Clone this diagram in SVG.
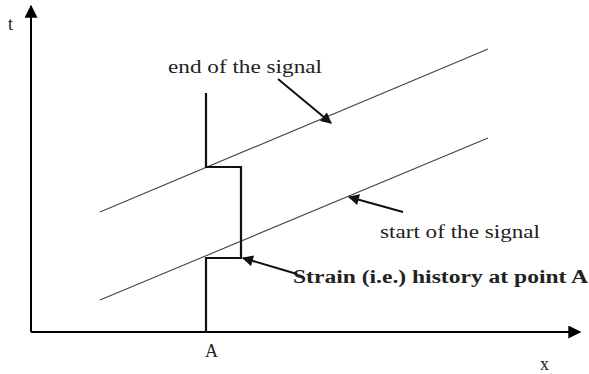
<svg xmlns="http://www.w3.org/2000/svg" width="589" height="374" viewBox="0 0 589 374">
<style>
.ax{stroke:#000;stroke-width:2;fill:none}
.sig{stroke:#444;stroke-width:1.1;fill:none}
.step{stroke:#111;stroke-width:2.2;fill:none}
.ann{stroke:#111;stroke-width:2;fill:none}
.t{font-family:"Liberation Serif","Times New Roman",serif;font-size:18px;fill:#222}
.b{font-weight:bold}
</style>
<defs>
<marker id="axh" viewBox="0 0 10 10" refX="9" refY="5" markerWidth="7" markerHeight="6.5" markerUnits="strokeWidth" orient="auto">
<path d="M0,0 L10,5 L0,10 Z" fill="#000"/>
</marker>
<marker id="ah" viewBox="0 0 10 10" refX="9" refY="5" markerWidth="6.5" markerHeight="5.5" markerUnits="strokeWidth" orient="auto">
<path d="M0,0 L10,5 L0,10 Z" fill="#111"/>
</marker>
</defs>
<rect width="589" height="374" fill="#fff"/>
<g id="axes">
<line class="ax" x1="31" y1="332" x2="31" y2="6" marker-end="url(#axh)"/>
<line class="ax" x1="31" y1="332" x2="580" y2="332" marker-end="url(#axh)"/>
<text class="t" x="8" y="30">t</text>
<text class="t" x="540" y="370">x</text>
<text class="t" x="205" y="357">A</text>
</g>
<g id="end-line"><line class="sig" x1="100" y1="212" x2="488" y2="49"/></g>
<g id="start-line"><line class="sig" x1="100" y1="300" x2="488" y2="138"/></g>
<g id="strain-history"><polyline class="step" points="206,93 206,167 241,167 241,258 206,258 206,332"/></g>
<g id="labels">
<text class="t" x="168" y="73" font-size="19" textLength="154" lengthAdjust="spacingAndGlyphs">end of the signal</text>
<text class="t" x="380" y="238" font-size="19" textLength="160" lengthAdjust="spacingAndGlyphs">start of the signal</text>
<text class="t b" x="293" y="283" textLength="295" lengthAdjust="spacingAndGlyphs">Strain (i.e.) history at point A</text>
</g>
<g id="connectors">
<line class="ann" x1="278" y1="79" x2="331" y2="123" marker-end="url(#ah)"/>
<line class="ann" x1="403" y1="212" x2="349" y2="197" marker-end="url(#ah)"/>
<line class="ann" x1="297" y1="274" x2="243" y2="258" marker-end="url(#ah)"/>
</g>
</svg>
